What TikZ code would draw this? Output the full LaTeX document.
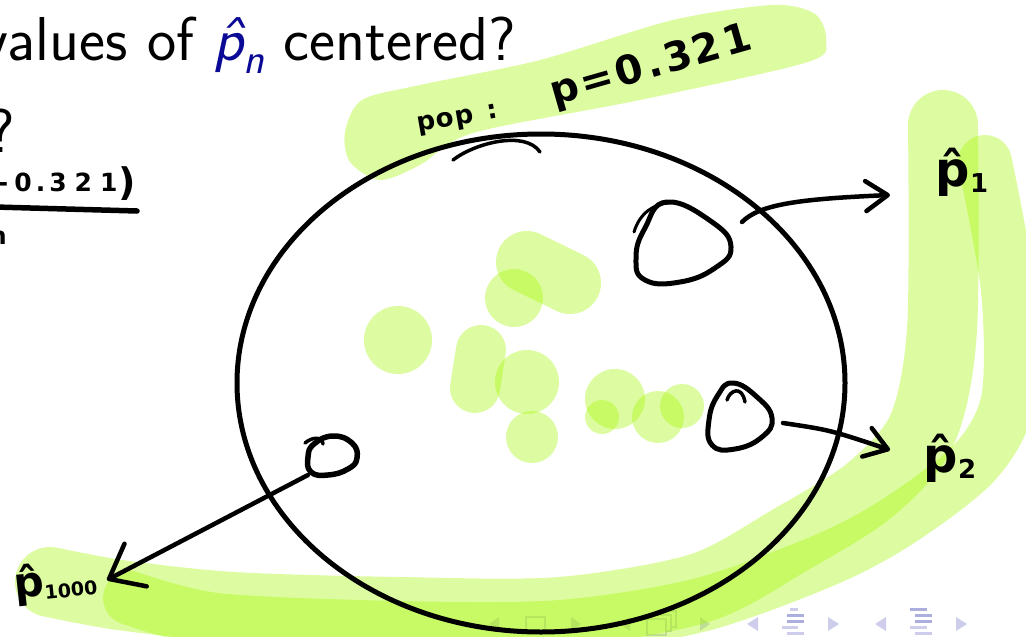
\documentclass[tikz,border=0pt]{standalone}
\usepackage{fontspec}
\usepackage{xcolor}
\newfontfamily\handfont{DejaVu Sans}
\definecolor{hlgreen}{RGB}{163,247,0}
\definecolor{hatblue}{RGB}{10,10,150}
\definecolor{navlight}{RGB}{206,206,236}
\definecolor{navdark}{RGB}{172,174,222}
\usetikzlibrary{arrows.meta, positioning}

\tikzset{
  hilite/.style={draw=hlgreen, draw opacity=0.37, line cap=round, line join=round},
  blob/.style={fill=hlgreen, fill opacity=0.37},
  ink/.style={line width=5pt, line cap=round, line join=round},
  inkarrow/.style={ink, line width=4.5pt, -{Straight Barb[length=22pt, width=30pt, round]}},
  handlabel/.style={font=\handfont\bfseries, inner sep=0pt},
  navsym/.style={fill=navlight, draw=none}
}

\begin{document}
\begin{tikzpicture}[x=1pt, y=-1pt]
  \useasboundingbox (0,0) rectangle (1026,637);
  \clip (0,0) rectangle (1026,637);

  % --- slide text ---
  \node[anchor=base west, inner sep=0pt, font=\sffamily\fontsize{62}{66}\selectfont] (title) at (-19,60)
    {values of {\color{hatblue}\slshape p̂\raisebox{-0.22em}{\fontsize{43}{43}\selectfont n}} centered?};
  \node[anchor=base east, inner sep=0pt, font=\sffamily\fontsize{62}{66}\selectfont] (qmark) at (15,152) {?};

  % --- navigation symbols ---
  \fill[navsym] (499,617) -- (499,631) -- (489,624) -- cycle;
  \draw[navlight, line width=2] (526,617) rectangle (545,631);
  \fill[navsym] (571,617) -- (571,631) -- (581,624) -- cycle;
  \fill[navsym] (630,617) -- (630,631) -- (620,624) -- cycle;
  \draw[navlight, line width=2, fill=white] (657,611) rectangle (676,627);
  \draw[navlight, line width=2, fill=white] (652,615) rectangle (671,631);
  \draw[navlight, line width=2, fill=white] (647,619) rectangle (666,635);
  \fill[navsym] (700,617) -- (700,631) -- (710,624) -- cycle;
  \fill[navsym] (758,617) -- (758,631) -- (747,624) -- cycle;
  \fill[navlight] (790,608) rectangle (798,611);
  \fill[navdark]  (787,614) rectangle (804,617);
  \fill[navdark]  (787,620) rectangle (804,623);
  \fill[navlight] (782,626) rectangle (798,629);
  \fill[navlight] (787,632) rectangle (804,635);
  \fill[navsym] (828,617) -- (828,631) -- (839,624) -- cycle;
  \fill[navsym] (886,617) -- (886,631) -- (875,624) -- cycle;
  \fill[navdark]  (910,608) rectangle (927,611);
  \fill[navdark]  (915,614) rectangle (932,617);
  \fill[navdark]  (915,620) rectangle (932,623);
  \fill[navlight] (910,626) rectangle (927,629);
  \fill[navlight] (915,632) rectangle (932,635);
  \fill[navsym] (956,617) -- (956,631) -- (967,624) -- cycle;

  % --- highlighter strokes ---
  \fill[blob] plot[smooth cycle] coordinates {(345,132) (362,100) (420,85) (540,60) (673,20)
    (773,5) (815,14) (826,40) (808,62) (640,100) (473,133) (420,165) (380,180) (350,162)};
  \draw[hilite, line width=70] plot[smooth] coordinates {(943,125) (942,330) (922,430)
    (870,490) (790,540) (700,588) (560,612) (400,612) (233,607) (120,595) (50,582)};
  \draw[hilite, line width=54] plot[smooth] coordinates {(985,162) (1008,290) (1008,400)
    (975,462) (900,520) (825,560) (700,605) (560,627) (400,628) (217,620) (130,598)};

  % blobs inside the population
  \draw[hilite, line width=62] (527,262) -- (570,283);
  \fill[blob] (514,298) circle (29);
  \fill[blob] (398,340) circle (34);
  \draw[hilite, line width=50] (481,350) -- (475,388);
  \fill[blob] (527,382) circle (32);
  \fill[blob] (532,437) circle (26);
  \fill[blob] (615,399) circle (30);
  \fill[blob] (602,417) circle (17);
  \fill[blob] (658,417) circle (26);
  \fill[blob] (682,406) circle (22);

  % --- ink ---
  \draw[ink, line width=5] (541,383) ellipse [x radius=304, y radius=249];
  \draw[ink, line width=3.5] (453,160) .. controls (475,143) and (525,130) .. (540,152);

  % handwritten fraction
  \node[handlabel, font=\handfont\bfseries\fontsize{25}{25}\selectfont, anchor=base east] (numer) at (136,191)
    {-\hspace{6pt}0\hspace{4pt}.\hspace{4pt}3\hspace{8pt}2\hspace{8pt}1\hspace{1pt}\raisebox{-4pt}{\fontsize{38}{38}\selectfont)}};
  \draw[ink, line width=5.5] (-5,207) -- (137,211);
  \node[handlabel, font=\handfont\bfseries\fontsize{24}{24}\selectfont, anchor=base east] (denom) at (7,244) {n};

  % population label
  \node[handlabel, font=\handfont\bfseries\fontsize{26}{26}\selectfont, rotate=10, anchor=base west] (poplbl) at (418,132)
    {p\hspace{1pt}o\hspace{1pt}p\hspace{14pt}:};
  \node[handlabel, font=\handfont\bfseries\fontsize{40}{40}\selectfont, rotate=16, anchor=base west] (popval) at (554,106)
    {p\hspace{3pt}=\hspace{3pt}0\hspace{4pt}.\hspace{4pt}3\hspace{1pt}2\hspace{4pt}1};

  % samples
  \draw[ink] plot[smooth cycle, tension=0.8] coordinates {(667,202) (712,222) (731,247)
    (715,268) (680,282) (645,280) (636,258) (645,228)};
  \draw[ink, line width=3] (634,232) .. controls (640,212) and (655,204) .. (668,203);
  \draw[ink] plot[smooth cycle, tension=0.8] coordinates {(733,383) (757,397) (772,418)
    (762,437) (735,449) (712,445) (709,420) (718,395)};
  \draw[ink, line width=3.5] (727,400) .. controls (730,390) and (742,385) .. (745,402);
  \draw[ink, line width=5.5] plot[smooth cycle, tension=0.8] coordinates {(333,436) (352,443) (357,458)
    (348,469) (328,475) (311,472) (308,457) (314,444)};
  \draw[ink, line width=3.5] (305,443) .. controls (312,437) and (322,436) .. (323,444);

  % estimates
  \node[handlabel, font=\handfont\bfseries\fontsize{48}{48}\selectfont] (phat1) at (962,172)
    {p̂\raisebox{-6pt}{\fontsize{26}{26}\selectfont 1}};
  \node[handlabel, font=\handfont\bfseries\fontsize{48}{48}\selectfont] (phat2) at (950,458)
    {p̂\raisebox{-6pt}{\fontsize{26}{26}\selectfont 2}};
  \node[handlabel, font=\handfont\bfseries\fontsize{42}{42}\selectfont, rotate=6] (phat1000) at (55,582)
    {p̂\raisebox{-4pt}{\fontsize{19}{19}\selectfont 1000}};

  % arrows
  \coordinate (s1) at (742,222);
  \coordinate (e1) at (890,195);
  \coordinate (s2) at (783,423);
  \coordinate (e2) at (890,450);
  \coordinate (s3) at (308,475);
  \coordinate (e3) at (107,580);
  \draw[inkarrow] (s1) .. controls (760,204) and (800,199) .. (e1);
  \draw[inkarrow] (s2) .. controls (830,430) .. (e2);
  \draw[inkarrow, -{Straight Barb[length=30pt, width=48pt, round]}] (s3) -- (e3);
\end{tikzpicture}
\end{document}
